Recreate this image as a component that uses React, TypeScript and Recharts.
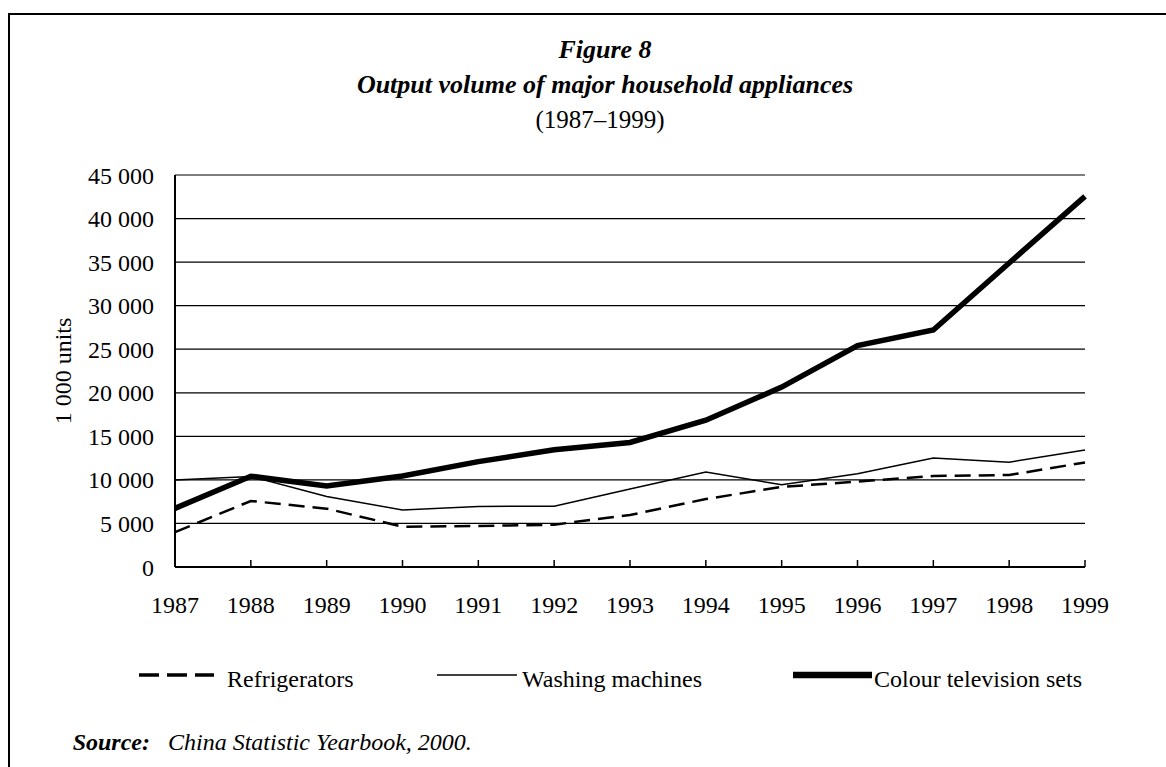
import React from "react";
import { LineChart, Line, XAxis, YAxis, CartesianGrid, Legend, Label } from "recharts";

const years = ["1987", "1988", "1989", "1990", "1991", "1992", "1993", "1994", "1995", "1996", "1997", "1998", "1999"];
const refrigerators = [4000, 7580, 6700, 4630, 4700, 4860, 5970, 7800, 9200, 9800, 10440, 10560, 12000];
const washingMachines = [10000, 10400, 8100, 6550, 6950, 6980, 8960, 10900, 9450, 10700, 12500, 12030, 13420];
const colourTv = [6730, 10420, 9300, 10450, 12100, 13450, 14300, 16850, 20650, 25420, 27200, 34900, 42550];
const yTicks = [0, 5000, 10000, 15000, 20000, 25000, 30000, 35000, 40000, 45000];

const data = years.map((year, i) => ({
  year,
  refrigerators: refrigerators[i],
  washing: washingMachines[i],
  tv: colourTv[i],
}));

const FONT = "'Liberation Serif', 'Times New Roman', serif";
const X_TICK_GAP = 29;

const fmt = (v: number) => (v === 0 ? "0" : `${Math.floor(v / 1000)} ${String(v % 1000).padStart(3, "0")}`);

const XTick = (props: any) => {
  const { x, y, payload } = props;
  const axisY = y - X_TICK_GAP;
  return (
    <g>
      <line x1={x} x2={x} y1={axisY} y2={axisY - 7} stroke="#000" strokeWidth={1.5} />
      <text x={x} y={y} dy="0.71em" textAnchor="middle" fontFamily={FONT} fontSize={24} fill="#000">
        {payload.value}
      </text>
    </g>
  );
};

const legendItems = [
  { key: "refrigerators", label: "Refrigerators", x1: 139, x2: 214, tx: 227, width: 3.5, dash: "20 8" },
  { key: "washing", label: "Washing machines", x1: 437, x2: 517, tx: 522, width: 1.5, dash: undefined },
  { key: "tv", label: "Colour television sets", x1: 793, x2: 872, tx: 874, width: 6.5, dash: undefined },
];

const ChartLegend = () => (
  <svg width={1166} height={40}>
    {legendItems.map((it) => (
      <g key={it.key}>
        <line x1={it.x1} x2={it.x2} y1={20} y2={20} stroke="#000" strokeWidth={it.width} strokeDasharray={it.dash} />
        <text x={it.tx} y={32} fontFamily={FONT} fontSize={24} fill="#000">
          {it.label}
        </text>
      </g>
    ))}
  </svg>
);

export default function App() {
  return (
    <div style={{ position: "absolute", left: 0, top: 0, width: 1166, height: 767, background: "#fff", overflow: "hidden" }}>
      <div
        style={{
          position: "absolute",
          left: 8,
          top: 13,
          width: 1160,
          height: 760,
          borderTop: "2px solid #000",
          borderLeft: "2px solid #000",
        }}
      />
      <svg width={1166} height={767} style={{ position: "absolute", left: 0, top: 0 }}>
        <g fontFamily={FONT} fill="#000" textAnchor="middle">
          <text x={605} y={58} fontSize={26} fontWeight="bold" fontStyle="italic">Figure 8</text>
          <text x={605} y={93} fontSize={26} fontWeight="bold" fontStyle="italic">Output volume of major household appliances</text>
          <text x={600} y={128} fontSize={25}>(1987–1999)</text>
        </g>
        <g fontFamily={FONT} fill="#000" fontStyle="italic" fontSize={24}>
          <text x={150} y={750} textAnchor="end" fontWeight="bold">Source:</text>
          <text x={168} y={750}>China Statistic Yearbook, 2000.</text>
        </g>
      </svg>
      <div style={{ position: "absolute", left: 0, top: 0 }}>
        <LineChart width={1166} height={767} data={data} margin={{ top: 175, right: 81, bottom: 160, left: 55 }}>
          <CartesianGrid vertical={false} stroke="#000" strokeWidth={1.2} />
          <XAxis
            dataKey="year"
            interval={0}
            height={40}
            tickSize={0}
            tickMargin={X_TICK_GAP}
            tickLine={false}
            axisLine={{ stroke: "#000", strokeWidth: 2 }}
            tick={<XTick />}
          />
          <YAxis
            width={120}
            domain={[0, 45000]}
            ticks={yTicks}
            interval={0}
            tickFormatter={fmt}
            tickLine={false}
            tickSize={6}
            tickMargin={15}
            axisLine={{ stroke: "#000", strokeWidth: 2 }}
            tick={{ fill: "#000", fontFamily: FONT, fontSize: 24 }}
          >
            <Label
              content={(p: any) => {
                const vb = p.viewBox || { x: 55, y: 175, height: 392 };
                return (
                  <text
                    transform={`translate(${vb.x + 8}, ${vb.y + vb.height / 2}) rotate(-90)`}
                    textAnchor="middle"
                    dominantBaseline="central"
                    fontFamily={FONT}
                    fontSize={24}
                    fill="#000"
                  >
                    1 000 units
                  </text>
                );
              }}
            />
          </YAxis>
          <Legend verticalAlign="middle" align="center" content={<ChartLegend />} wrapperStyle={{ top: 655, left: 0, width: 1166 }} />
          <Line type="linear" dataKey="refrigerators" name="Refrigerators" stroke="#000" strokeWidth={2.5} strokeDasharray="16 8" dot={false} isAnimationActive={false} />
          <Line type="linear" dataKey="washing" name="Washing machines" stroke="#000" strokeWidth={1.5} dot={false} isAnimationActive={false} />
          <Line type="linear" dataKey="tv" name="Colour television sets" stroke="#000" strokeWidth={5.5} dot={false} isAnimationActive={false} />
        </LineChart>
      </div>
    </div>
  );
}
